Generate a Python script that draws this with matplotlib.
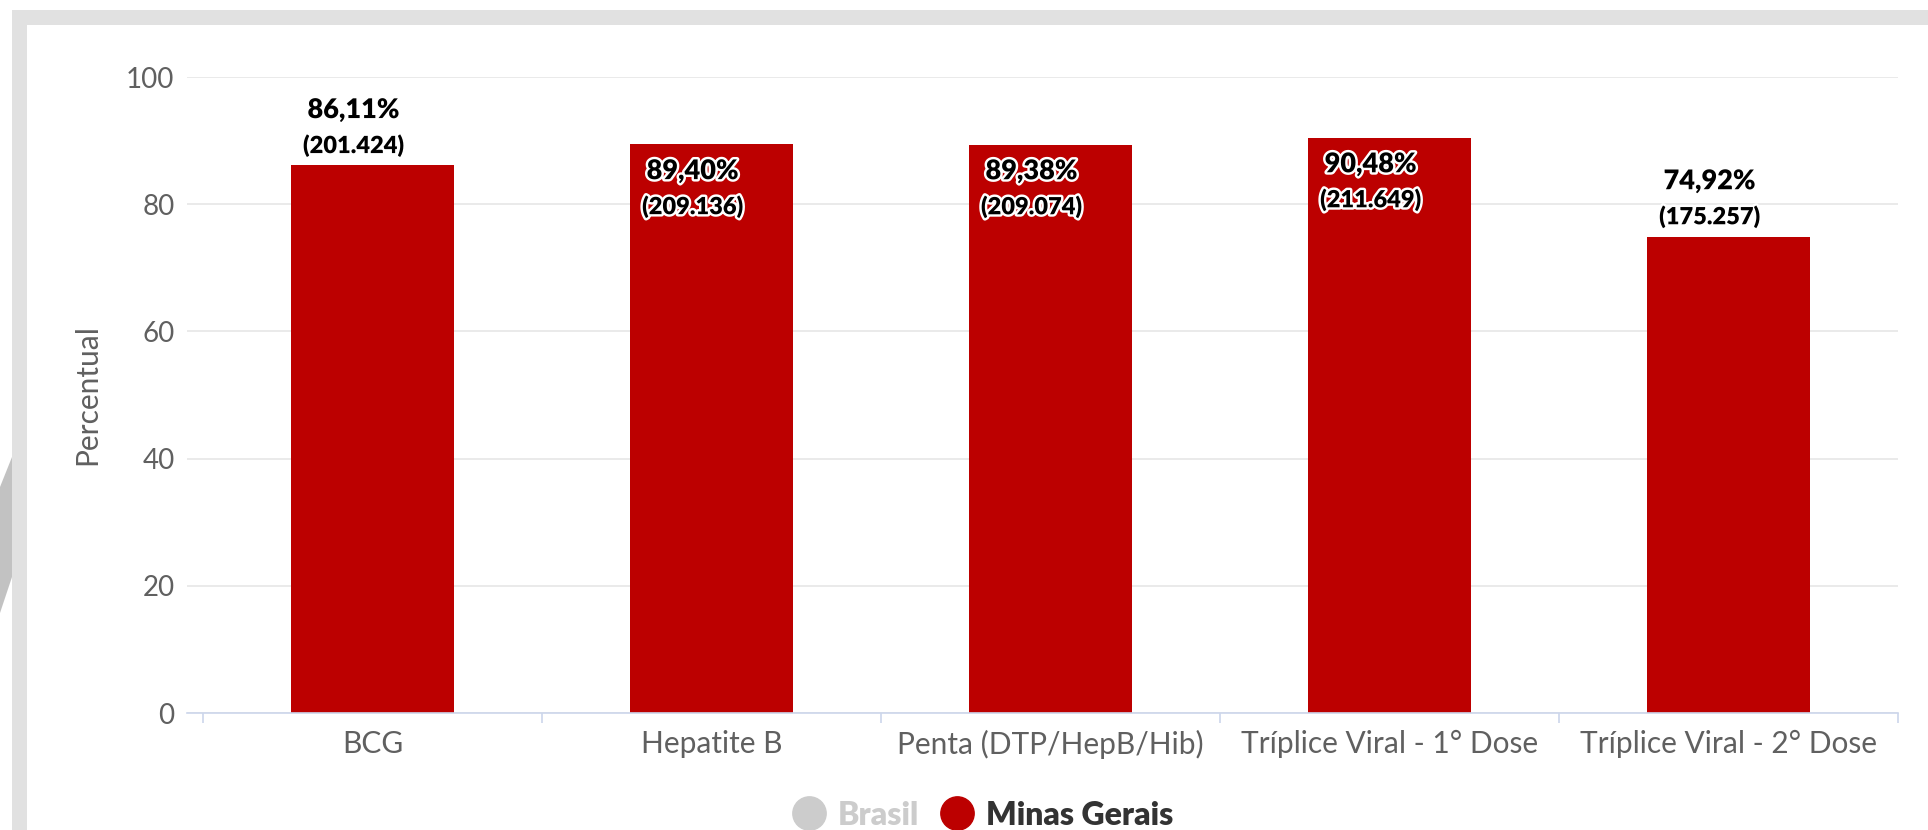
import matplotlib
matplotlib.use("Agg")
import matplotlib.pyplot as plt
import matplotlib.patheffects as pe
from matplotlib.lines import Line2D
from matplotlib.patches import Rectangle, Polygon

# data
categorias = ["BCG", "Hepatite B", "Penta (DTP/HepB/Hib)",
              "Tríplice Viral - 1° Dose", "Tríplice Viral - 2° Dose"]
percentual = [86.11, 89.40, 89.38, 90.48, 74.92]
doses = [201424, 209136, 209074, 211649, 175257]
series = ["Brasil", "Minas Gerais"]

W, H = 1928, 830
DPI = 100
RED = "#bc0000"
GRAY_TXT = "#606060"

plt.rcParams["font.family"] = ["Lato", "DejaVu Sans"]

fig = plt.figure(figsize=(W / DPI, H / DPI), dpi=DPI)
fig.patch.set_facecolor("white")

def px(x, y):
    # pixel coords (from top-left) -> figure fraction
    return x / W, 1 - y / H

# grey frame around the chart
fig.patches.append(Rectangle(px(12, 25), (W - 12) / W, 15 / H, transform=fig.transFigure,
                             facecolor="#e1e1e1", edgecolor="none", zorder=0))
fig.patches.append(Rectangle(px(12, H), 15 / W, (H - 10) / H, transform=fig.transFigure,
                             facecolor="#e1e1e1", edgecolor="none", zorder=0))
fig.patches.append(Polygon([px(0, 487), px(12, 457), px(12, 577), px(0, 613)],
                           closed=True, transform=fig.transFigure,
                           facecolor="#c2c2c2", edgecolor="none", zorder=0))

left, right, top, bottom = 187, 1898, 77, 713
ax = fig.add_axes([left / W, (H - bottom) / H, (right - left) / W, (bottom - top) / H])

x = list(range(len(categorias)))
cat_px = 339.0
ax.bar(x, percentual, width=163 / cat_px, color=RED, zorder=2)

ax.set_xlim(-0.5 - 16 / cat_px, len(categorias) - 0.5)
ax.set_ylim(0, 100)
ax.set_yticks([0, 20, 40, 60, 80, 100])
ax.yaxis.grid(True, color="#e6e6e6", linewidth=1.2, zorder=0)
ax.set_axisbelow(True)

for s in ["top", "right", "left"]:
    ax.spines[s].set_visible(False)
ax.spines["bottom"].set_color("#ccd6eb")
ax.spines["bottom"].set_linewidth(1.2)

ax.set_xticks([i - 0.5 for i in range(len(categorias) + 1)])
ax.set_xticklabels([])
ax.tick_params(axis="x", which="major", length=7.2, width=1.2, color="#ccd6eb")
ax.set_xticks(x, minor=True)
ax.set_xticklabels(categorias, minor=True)
ax.tick_params(axis="x", which="minor", length=0, pad=12, labelsize=21.5, labelcolor=GRAY_TXT)
ax.tick_params(axis="y", length=0, pad=9, labelsize=20, labelcolor=GRAY_TXT)

ax.set_ylabel("Percentual", fontsize=21.5, color=GRAY_TXT)
ax.yaxis.label.set_va("center")
ax.yaxis.set_label_coords((87.5 - left) / (right - left), 0.5)

# data labels
px_per_unit = (bottom - top) / 100.0
outline = [pe.withStroke(linewidth=3.5, foreground="white")]
for i, (v, n) in enumerate(zip(percentual, doses)):
    txt1 = f"{v:.2f}".replace(".", ",") + "%"
    txt2 = "(" + f"{n:,}".replace(",", ".") + ")"
    bar_top = bottom - v * px_per_unit
    if bar_top - 72 >= top:
        o1, o2 = 55, 20
    else:
        o1, o2 = -27, -62
    ax.annotate(txt1, (i, v), xytext=(-19, o1), textcoords="offset pixels",
                ha="center", va="center", fontsize=19.5, fontweight="heavy",
                color="black", path_effects=outline, zorder=5)
    ax.annotate(txt2, (i, v), xytext=(-19, o2), textcoords="offset pixels",
                ha="center", va="center", fontsize=17, fontweight="heavy",
                color="black", path_effects=outline, zorder=5)

# legend (Brasil hidden -> grey)
handles = [Line2D([], [], marker="o", linestyle="none", markersize=24,
                  markerfacecolor="#cccccc", markeredgecolor="#cccccc"),
           Line2D([], [], marker="o", linestyle="none", markersize=24,
                  markerfacecolor=RED, markeredgecolor=RED)]
leg = fig.legend(handles, series, loc="center", bbox_to_anchor=px(978, 815),
                 ncol=2, frameon=False, handletextpad=0.1, handlelength=1.6,
                 columnspacing=0.4, prop={"weight": "heavy", "size": 23})
leg.get_texts()[0].set_color("#cccccc")
leg.get_texts()[1].set_color("#333333")

fig.savefig("out.png", dpi=DPI, facecolor="white")
